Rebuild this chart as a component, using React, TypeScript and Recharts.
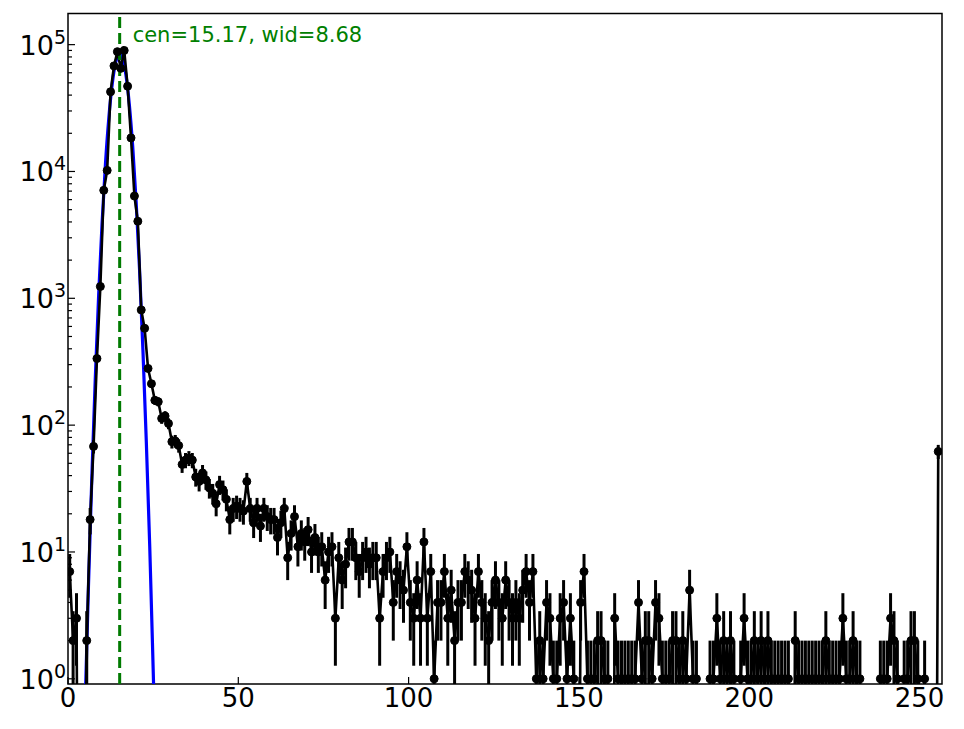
import React from "react"
import {
  ComposedChart,
  Line,
  XAxis,
  YAxis,
  ErrorBar,
  ReferenceLine,
  ReferenceArea,
} from "recharts"

// counts per ADC bin, bins 0..255 (bin centre = i + 0.5)
const COUNTS = [
  7, 2, 3, 0, 0, 2, 18, 68, 335, 1240, 7100, 10200, 42500, 68000, 88000, 65000,
  90000, 47000, 18400, 6400, 4050, 810, 580, 280, 212, 157, 153, 113, 118, 103, 74, 75,
  69, 49, 53, 55, 53, 39, 36, 42, 37, 32, 29, 24, 34, 31, 26, 18,
  22, 23, 22, 21, 36, 22, 17, 22, 16, 22, 19, 18, 18, 13, 17, 22,
  9, 14, 19, 11, 14, 12, 15, 10, 13, 10, 11, 6, 10, 11, 3, 9,
  6, 8, 12, 12, 9, 7, 9, 10, 8, 9, 9, 3, 7, 9, 10, 4,
  7, 6, 5, 11, 4, 3, 6, 3, 12, 3, 7, 1, 4, 4, 7, 3,
  5, 2, 4, 4, 7, 6, 5, 3, 7, 4, 3, 2, 4, 6, 4, 3,
  6, 4, 3, 4, 3, 5, 7, 4, 7, 1, 2, 1, 4, 3, 1, 1,
  3, 4, 1, 3, 1, 0, 4, 7, 1, 1, 1, 2, 2, 1, 1, 0,
  3, 1, 1, 1, 1, 1, 1, 4, 1, 2, 2, 1, 4, 3, 1, 1,
  1, 2, 2, 1, 2, 1, 5, 1, 1, 0, 0, 0, 1, 1, 3, 1,
  2, 1, 2, 1, 0, 1, 3, 1, 1, 2, 1, 2, 1, 2, 1, 1,
  1, 1, 1, 1, 0, 2, 1, 1, 1, 1, 1, 1, 1, 1, 2, 1,
  1, 1, 1, 3, 1, 1, 2, 1, 1, 0, 0, 0, 0, 0, 1, 1,
  1, 3, 2, 1, 0, 1, 1, 2, 2, 1, 0, 1, 0, 0, 0, 62,
]

// gaussian fit curve
const FIT_X = [4, 5, 6, 7, 8, 9, 10, 11, 12, 13, 14, 15, 16, 17, 18, 19, 20, 21, 22, 23, 24, 25, 26]
const FIT_Y = [
  0.05, 0.57, 5.3, 39, 230, 1060, 3900, 11500, 26700, 49400, 72600, 84700,
  78500, 57800, 33800, 15700, 5800, 1700, 390, 73, 11, 1.2, 0.12,
]
const CEN = 15.17
const WID = 8.68

const X_TICKS = [0, 50, 100, 150, 200, 250]
const DECADES = [0, 1, 2, 3, 4, 5]
const MINOR = [1, 2, 3, 4, 5, 6, 7, 8, 9]

const X_MAX = 256.6
const Y_MIN = 0.91
const Y_MAX = 176000
const FLOOR = 1e-4 // stand-in for empty bins on the log axis

const FONT = "DejaVu Sans"

const histData = COUNTS.map((n, i) => ({
  x: i + 0.5,
  y: n > 0 ? n : FLOOR,
  err: n > 0 ? [n - Math.max(n - Math.sqrt(n), Y_MIN), Math.sqrt(n)] : null,
}))

const fitData = FIT_X.map((x, i) => ({ x, fit: FIT_Y[i] }))

const yTicks = DECADES.flatMap((e) => MINOR.map((m) => m * Math.pow(10, e))).filter(
  (v) => v <= Y_MAX
)

const YTick = ({ x, y, payload }: any) => {
  const v = payload.value
  const e = Math.floor(Math.log10(v) + 1e-9)
  const major = Math.abs(v / Math.pow(10, e) - 1) < 1e-9
  return (
    <g>
      <line x1={x} x2={x + (major ? 7 : 4)} y1={y} y2={y} stroke="#000" strokeWidth={1.2} />
      {major && (
        <text x={x - 2} y={y + 10} textAnchor="end" fontFamily={FONT} fill="#000">
          <tspan fontSize={27}>10</tspan>
          <tspan fontSize={19} dy={-11}>
            {e}
          </tspan>
        </text>
      )}
    </g>
  )
}

const XTick = ({ x, y, payload }: any) => (
  <g>
    <line x1={x} x2={x} y1={y} y2={y - 7} stroke="#000" strokeWidth={1.2} />
    <text x={x} y={y + 23} textAnchor="middle" fontSize={26} fontFamily={FONT} fill="#000">
      {payload.value}
    </text>
  </g>
)

const FitLabel = ({ viewBox }: any) => {
  const vx = viewBox ? viewBox.x : 0
  const vy = viewBox ? viewBox.y : 0
  return (
    <text x={vx + 13} y={vy + 28.5} fontSize={21} fontFamily={FONT} fill="#008000">
      {`cen=${CEN.toFixed(2)}, wid=${WID.toFixed(2)}`}
    </text>
  )
}

export default function App() {
  return (
    <div style={{ position: "absolute", left: 0, top: 0, width: 964, height: 729, background: "#fff" }}>
      <ComposedChart width={964} height={729} margin={{ top: 13.5, right: 22, bottom: 0, left: 0 }}>
        <XAxis
          type="number"
          dataKey="x"
          domain={[0, X_MAX]}
          allowDataOverflow
          ticks={X_TICKS}
          interval={0}
          height={45}
          tickSize={0}
          tickMargin={0}
          axisLine={false}
          tickLine={false}
          tick={<XTick />}
        />
        <YAxis
          scale="log"
          domain={[Y_MIN, Y_MAX]}
          allowDataOverflow
          ticks={yTicks}
          interval={0}
          width={68}
          tickSize={0}
          tickMargin={0}
          axisLine={false}
          tickLine={false}
          tick={<YTick />}
        />
        <Line
          data={fitData}
          dataKey="fit"
          type="monotone"
          stroke="#0000ff"
          strokeWidth={3.2}
          dot={false}
          activeDot={false}
          isAnimationActive={false}
        />
        <Line
          data={histData}
          dataKey="y"
          type="linear"
          stroke="#000"
          strokeWidth={2.6}
          dot={{ r: 4, fill: "#000", stroke: "#000", strokeWidth: 1 }}
          activeDot={false}
          isAnimationActive={false}
        >
          <ErrorBar dataKey="err" direction="y" width={0} stroke="#000" strokeWidth={3} />
        </Line>
        <ReferenceLine
          x={CEN}
          stroke="#007a00"
          strokeWidth={3}
          strokeDasharray="11 5"
          label={<FitLabel />}
        />
        <ReferenceArea
          x1={0}
          x2={X_MAX}
          y1={Y_MIN}
          y2={Y_MAX}
          fill="none"
          stroke="#000"
          strokeWidth={1.5}
          ifOverflow="visible"
        />
      </ComposedChart>
    </div>
  )
}
